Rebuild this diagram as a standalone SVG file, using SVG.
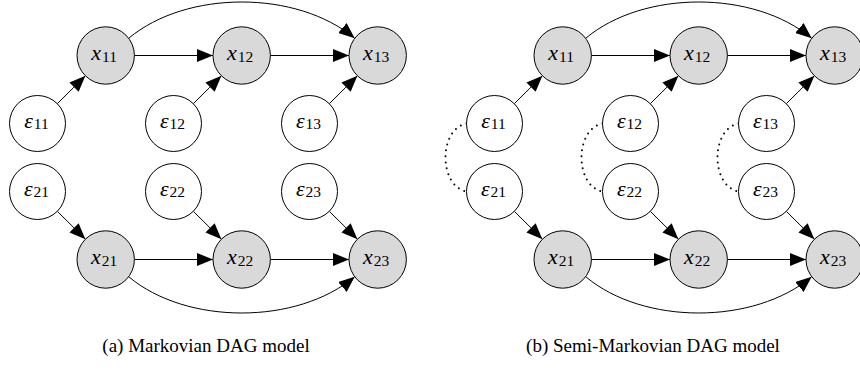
<svg xmlns="http://www.w3.org/2000/svg" width="860" height="371" viewBox="0 0 860 371">
  <style>
    .obs { fill: #d9d9d9; stroke: #000; stroke-width: 1; }
    .noise { fill: #fff; stroke: #000; stroke-width: 1; }
    .edge { fill: none; stroke: #000; stroke-width: 1; marker-end: url(#tip); }
    .conf { fill: none; stroke: #000; stroke-width: 2; stroke-linecap: round; stroke-dasharray: 0 6; }
    text { font-family: "Liberation Serif", "Times New Roman", serif; fill: #000; }
    .lbl { text-anchor: middle; }
    .var { font-family: "Liberation Serif", "Times New Roman", serif; font-style: italic; font-size: 22px; }
    .sub { font-family: "Liberation Serif", "Times New Roman", serif; font-style: normal; font-size: 15.5px; }
    .cap { font-size: 19px; text-anchor: middle; }
  </style>
  <defs>
    <marker id="tip" markerUnits="userSpaceOnUse" viewBox="0 0 16 13" refX="16" refY="6.5" markerWidth="16" markerHeight="13" orient="auto">
      <path d="M0,0 L16,6.5 L0,13 z" fill="#000"/>
    </marker>
    <circle id="xnode" r="28.7"/>
    <circle id="enode" r="28"/>
  </defs>

  <!-- (a) Markovian DAG model -->
  <g id="panel-a">
    <g id="edges-a">
      <line class="edge" x1="134.4" y1="55.5" x2="213" y2="55.5"/>
      <line class="edge" x1="270.4" y1="55.5" x2="349" y2="55.5"/>
      <line class="edge" x1="134.4" y1="259.5" x2="213" y2="259.5"/>
      <line class="edge" x1="270.4" y1="259.5" x2="349" y2="259.5"/>
      <line class="edge" x1="57.3" y1="103.7" x2="85.4" y2="75.8"/>
      <line class="edge" x1="193.3" y1="103.7" x2="221.4" y2="75.8"/>
      <line class="edge" x1="329.3" y1="103.7" x2="357.4" y2="75.8"/>
      <line class="edge" x1="57.3" y1="211.3" x2="85.4" y2="239.2"/>
      <line class="edge" x1="193.3" y1="211.3" x2="221.4" y2="239.2"/>
      <line class="edge" x1="329.3" y1="211.3" x2="357.4" y2="239.2"/>
      <path class="edge" d="M128.7,38.3 C186.4,-10.1 297,-10.1 354.7,38.3"/>
      <path class="edge" d="M128.7,276.7 C186.4,325.1 297,325.1 354.7,276.7"/>
    </g>
    <g id="a-x11"><use href="#xnode" class="obs" x="105.7" y="55.5"/><text class="lbl" x="104.2" y="60"><tspan class="var">x</tspan><tspan class="sub" dx="1" dy="1.5">11</tspan></text></g>
    <g id="a-x12"><use href="#xnode" class="obs" x="241.7" y="55.5"/><text class="lbl" x="240.2" y="60"><tspan class="var">x</tspan><tspan class="sub" dx="1" dy="1.5">12</tspan></text></g>
    <g id="a-x13"><use href="#xnode" class="obs" x="377.7" y="55.5"/><text class="lbl" x="376.2" y="60"><tspan class="var">x</tspan><tspan class="sub" dx="1" dy="1.5">13</tspan></text></g>
    <g id="a-e11"><use href="#enode" class="noise" x="37.5" y="123.5"/><text class="lbl" x="36.5" y="127.5"><tspan class="var">ε</tspan><tspan class="sub" dx="1" dy="1.5">11</tspan></text></g>
    <g id="a-e12"><use href="#enode" class="noise" x="173.5" y="123.5"/><text class="lbl" x="172.5" y="127.5"><tspan class="var">ε</tspan><tspan class="sub" dx="1" dy="1.5">12</tspan></text></g>
    <g id="a-e13"><use href="#enode" class="noise" x="309.5" y="123.5"/><text class="lbl" x="308.5" y="127.5"><tspan class="var">ε</tspan><tspan class="sub" dx="1" dy="1.5">13</tspan></text></g>
    <g id="a-e21"><use href="#enode" class="noise" x="37.5" y="191.5"/><text class="lbl" x="36.5" y="195.5"><tspan class="var">ε</tspan><tspan class="sub" dx="1" dy="1.5">21</tspan></text></g>
    <g id="a-e22"><use href="#enode" class="noise" x="173.5" y="191.5"/><text class="lbl" x="172.5" y="195.5"><tspan class="var">ε</tspan><tspan class="sub" dx="1" dy="1.5">22</tspan></text></g>
    <g id="a-e23"><use href="#enode" class="noise" x="309.5" y="191.5"/><text class="lbl" x="308.5" y="195.5"><tspan class="var">ε</tspan><tspan class="sub" dx="1" dy="1.5">23</tspan></text></g>
    <g id="a-x21"><use href="#xnode" class="obs" x="105.7" y="259.5"/><text class="lbl" x="104.2" y="264"><tspan class="var">x</tspan><tspan class="sub" dx="1" dy="1.5">21</tspan></text></g>
    <g id="a-x22"><use href="#xnode" class="obs" x="241.7" y="259.5"/><text class="lbl" x="240.2" y="264"><tspan class="var">x</tspan><tspan class="sub" dx="1" dy="1.5">22</tspan></text></g>
    <g id="a-x23"><use href="#xnode" class="obs" x="377.7" y="259.5"/><text class="lbl" x="376.2" y="264"><tspan class="var">x</tspan><tspan class="sub" dx="1" dy="1.5">23</tspan></text></g>
    <text class="cap" x="206" y="352">(a) Markovian DAG model</text>
  </g>

  <!-- (b) Semi-Markovian DAG model: same layout shifted right, plus confounding arcs -->
  <g id="panel-b" transform="translate(457 0)">
    <g id="edges-b">
      <line class="edge" x1="134.4" y1="55.5" x2="213" y2="55.5"/>
      <line class="edge" x1="270.4" y1="55.5" x2="349" y2="55.5"/>
      <line class="edge" x1="134.4" y1="259.5" x2="213" y2="259.5"/>
      <line class="edge" x1="270.4" y1="259.5" x2="349" y2="259.5"/>
      <line class="edge" x1="57.3" y1="103.7" x2="85.4" y2="75.8"/>
      <line class="edge" x1="193.3" y1="103.7" x2="221.4" y2="75.8"/>
      <line class="edge" x1="329.3" y1="103.7" x2="357.4" y2="75.8"/>
      <line class="edge" x1="57.3" y1="211.3" x2="85.4" y2="239.2"/>
      <line class="edge" x1="193.3" y1="211.3" x2="221.4" y2="239.2"/>
      <line class="edge" x1="329.3" y1="211.3" x2="357.4" y2="239.2"/>
      <path class="edge" d="M128.7,38.3 C186.4,-10.1 297,-10.1 354.7,38.3"/>
      <path class="edge" d="M128.7,276.7 C186.4,325.1 297,325.1 354.7,276.7"/>
      <path class="conf" d="M9.5,123.5 C-18.5,129 -18.5,186 9.5,191.5"/>
      <path class="conf" d="M145.5,123.5 C117.5,129 117.5,186 145.5,191.5"/>
      <path class="conf" d="M281.5,123.5 C253.5,129 253.5,186 281.5,191.5"/>
    </g>
    <g id="b-x11"><use href="#xnode" class="obs" x="105.7" y="55.5"/><text class="lbl" x="104.2" y="60"><tspan class="var">x</tspan><tspan class="sub" dx="1" dy="1.5">11</tspan></text></g>
    <g id="b-x12"><use href="#xnode" class="obs" x="241.7" y="55.5"/><text class="lbl" x="240.2" y="60"><tspan class="var">x</tspan><tspan class="sub" dx="1" dy="1.5">12</tspan></text></g>
    <g id="b-x13"><use href="#xnode" class="obs" x="377.7" y="55.5"/><text class="lbl" x="376.2" y="60"><tspan class="var">x</tspan><tspan class="sub" dx="1" dy="1.5">13</tspan></text></g>
    <g id="b-e11"><use href="#enode" class="noise" x="37.5" y="123.5"/><text class="lbl" x="36.5" y="127.5"><tspan class="var">ε</tspan><tspan class="sub" dx="1" dy="1.5">11</tspan></text></g>
    <g id="b-e12"><use href="#enode" class="noise" x="173.5" y="123.5"/><text class="lbl" x="172.5" y="127.5"><tspan class="var">ε</tspan><tspan class="sub" dx="1" dy="1.5">12</tspan></text></g>
    <g id="b-e13"><use href="#enode" class="noise" x="309.5" y="123.5"/><text class="lbl" x="308.5" y="127.5"><tspan class="var">ε</tspan><tspan class="sub" dx="1" dy="1.5">13</tspan></text></g>
    <g id="b-e21"><use href="#enode" class="noise" x="37.5" y="191.5"/><text class="lbl" x="36.5" y="195.5"><tspan class="var">ε</tspan><tspan class="sub" dx="1" dy="1.5">21</tspan></text></g>
    <g id="b-e22"><use href="#enode" class="noise" x="173.5" y="191.5"/><text class="lbl" x="172.5" y="195.5"><tspan class="var">ε</tspan><tspan class="sub" dx="1" dy="1.5">22</tspan></text></g>
    <g id="b-e23"><use href="#enode" class="noise" x="309.5" y="191.5"/><text class="lbl" x="308.5" y="195.5"><tspan class="var">ε</tspan><tspan class="sub" dx="1" dy="1.5">23</tspan></text></g>
    <g id="b-x21"><use href="#xnode" class="obs" x="105.7" y="259.5"/><text class="lbl" x="104.2" y="264"><tspan class="var">x</tspan><tspan class="sub" dx="1" dy="1.5">21</tspan></text></g>
    <g id="b-x22"><use href="#xnode" class="obs" x="241.7" y="259.5"/><text class="lbl" x="240.2" y="264"><tspan class="var">x</tspan><tspan class="sub" dx="1" dy="1.5">22</tspan></text></g>
    <g id="b-x23"><use href="#xnode" class="obs" x="377.7" y="259.5"/><text class="lbl" x="376.2" y="264"><tspan class="var">x</tspan><tspan class="sub" dx="1" dy="1.5">23</tspan></text></g>
    <text class="cap" x="196" y="352">(b) Semi-Markovian DAG model</text>
  </g>
</svg>
